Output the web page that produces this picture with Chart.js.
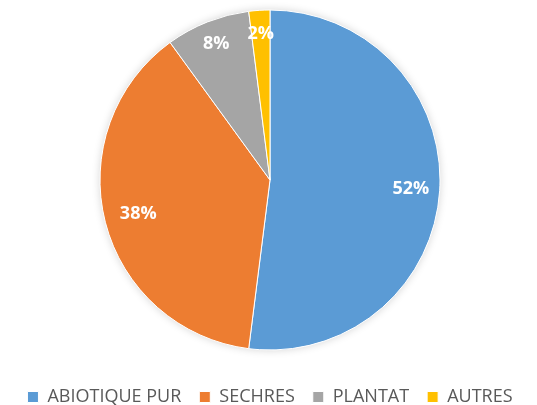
<!DOCTYPE html>
<html>
<head>
<meta charset="utf-8">
<script src="https://cdn.jsdelivr.net/npm/chart.js@4"></script>
<style>
  html, body { margin: 0; padding: 0; background: #fff; overflow: hidden; }
  #wrap { width: 537px; height: 415px; margin-top: -10px; }
</style>
</head>
<body>
<div id="wrap"><canvas id="pieChart"></canvas></div>
<script>
const categories = ["ABIOTIQUE PUR", "SECHRES", "PLANTAT", "AUTRES"];
const values = [52, 38, 8, 2];
const colors = ["#5B9BD5", "#ED7D31", "#A5A5A5", "#FFC000"];
const labelRadius = [0.83, 0.8, 0.86, 0.86];

// soft shadow under the pie + percent labels inside each slice
const sliceLabels = {
  id: "sliceLabels",
  beforeDatasetsDraw(chart) {
    const ctx = chart.ctx;
    const arc = chart.getDatasetMeta(0).data[0];
    if (!arc) return;
    const p = arc.getProps(["x", "y", "outerRadius"], true);
    ctx.save();
    ctx.shadowColor = "rgba(0, 0, 0, 0.18)";
    ctx.shadowBlur = 9;
    ctx.beginPath();
    ctx.arc(p.x, p.y, p.outerRadius, 0, Math.PI * 2);
    ctx.fillStyle = "#fff";
    ctx.fill();
    ctx.restore();
  },
  afterDatasetsDraw(chart) {
    const ctx = chart.ctx;
    const meta = chart.getDatasetMeta(0);
    ctx.save();
    ctx.fillStyle = "#fff";
    ctx.font = "bold 18px 'Open Sans', sans-serif";
    ctx.textAlign = "center";
    ctx.textBaseline = "middle";
    meta.data.forEach((arc, i) => {
      const p = arc.getProps(["x", "y", "startAngle", "endAngle", "outerRadius"], true);
      const mid = (p.startAngle + p.endAngle) / 2;
      const r = p.outerRadius * labelRadius[i];
      ctx.fillText(values[i] + "%", p.x + Math.cos(mid) * r, p.y + Math.sin(mid) * r);
    });
    ctx.restore();
  },
};

const ctx = document.getElementById("pieChart").getContext("2d");
new Chart(ctx, {
  type: "pie",
  data: {
    labels: categories,
    datasets: [
      {
        data: values,
        backgroundColor: colors,
        borderColor: "#fff",
        borderWidth: 1,
        radius: 170,
      },
    ],
  },
  options: {
    responsive: true,
    maintainAspectRatio: false,
    animation: false,
    layout: { padding: { top: 0, bottom: -11, left: 3, right: 0 } },
    plugins: {
      legend: {
        position: "bottom",
        labels: {
          color: "#595959",
          font: { size: 18, family: "'Open Sans', sans-serif" },
          boxWidth: 11,
          boxHeight: 11,
          padding: 18,
        },
      },
      tooltip: { enabled: false },
    },
  },
  plugins: [sliceLabels],
});
</script>
</body>
</html>
